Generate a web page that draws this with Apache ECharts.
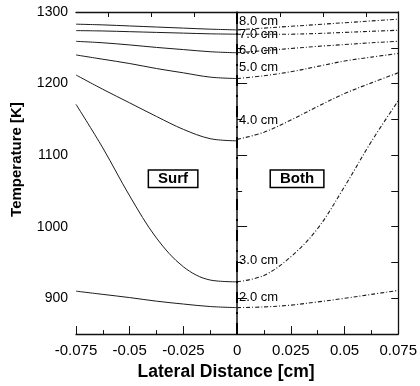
<!DOCTYPE html>
<html>
<head>
<meta charset="utf-8">
<script src="https://cdn.jsdelivr.net/npm/echarts@6/dist/echarts.min.js"></script>
<style>
  html, body { margin: 0; padding: 0; background: #fff; }
  #chart { width: 420px; height: 386px; }
</style>
</head>
<body>
<div id="chart"></div>
<script>
// Lateral positions [cm]: left half (Surf model) and right half (Both model)
const xSurf = [-0.075, -0.0625, -0.05, -0.0375, -0.025, -0.0125, 0];
const xBoth = [0, 0.0125, 0.025, 0.0375, 0.05, 0.0625, 0.075];

// Depth of each profile
const depths = ['8.0 cm', '7.0 cm', '6.0 cm', '5.0 cm', '4.0 cm', '3.0 cm', '2.0 cm'];

// Temperature profiles [K], Surf model (x from -0.075 to 0)
const surf80 = [1283, 1282, 1280.5, 1279, 1277.5, 1276, 1275];
const surf70 = [1274, 1273.5, 1272.5, 1271.5, 1270.5, 1269.5, 1269];
const surf60 = [1259, 1257, 1254, 1250.5, 1247.5, 1244.5, 1243];
const surf50 = [1240, 1234, 1228, 1221, 1215, 1209, 1207];
const surf40 = [1212, 1192, 1173, 1154, 1136, 1123, 1120];
const surf30 = [1171, 1110, 1043, 984, 944, 925.5, 923];
const surf20 = [910, 905.5, 901, 896, 892, 888.5, 887];

// Temperature profiles [K], Both model (x from 0 to 0.075)
const both80 = [1275, 1277.5, 1280, 1282.5, 1285, 1287.5, 1290];
const both70 = [1269, 1268.8, 1269, 1270, 1271.5, 1273, 1274.5];
const both60 = [1243, 1246, 1249, 1252, 1254.5, 1257, 1259];
const both50 = [1207, 1211, 1216.5, 1224, 1231.5, 1237, 1242];
const both40 = [1122, 1132, 1149, 1168, 1186, 1201, 1215];
const both30 = [923, 932, 958, 997.5, 1056, 1119, 1176];
const both20 = [887, 888, 890.5, 895, 900, 905.5, 911];

// Axis tick labels
const xTickLabels = ['-0.075', '-0.05', '-0.025', '0', '0.025', '0.05', '0.075'];
const yTickLabels = ['900', '1000', '1100', '1200', '1300'];

const surfSets = [surf80, surf70, surf60, surf50, surf40, surf30, surf20];
const bothSets = [both80, both70, both60, both50, both40, both30, both20];

const FONT = '"Liberation Sans", Arial, Helvetica, sans-serif';
const INK = '#111';

const zip = (xs, ys) => xs.map((x, i) => [x, ys[i]]);

const series = [];
depths.forEach((d, i) => {
  series.push({
    name: 'Surf ' + d,
    type: 'line',
    data: zip(xSurf, surfSets[i]),
    smooth: 0.35,
    symbol: 'none',
    lineStyle: { color: '#1c1c1c', width: 1 },
    z: 3
  });
  series.push({
    name: 'Both ' + d,
    type: 'line',
    data: zip(xBoth, bothSets[i]),
    smooth: 0.35,
    symbol: 'none',
    lineStyle: { color: '#1c1c1c', width: 1.1, type: [4, 2, 1, 2] },
    z: 3
  });
});

// Centre line between the two halves
series[0].markLine = {
  silent: true,
  symbol: 'none',
  label: { show: false },
  lineStyle: { color: '#000', width: 2, type: [11, 9, 2, 9] },
  data: [{ xAxis: 0 }]
};

// Depth tags placed just right of the centre line
const depthLabelAt = [1287.5, 1268, 1247, 1222, 1148.5, 953, 901.5];
series.push({
  name: 'depth tags',
  type: 'scatter',
  symbolSize: 0,
  silent: true,
  itemStyle: { opacity: 1 },
  data: depths.map((d, i) => ({ value: [0, depthLabelAt[i]], name: d })),
  label: {
    show: true,
    position: 'right',
    distance: 2,
    opacity: 1,
    formatter: p => p.name,
    fontFamily: FONT,
    fontSize: 13,
    color: '#000'
  },
  z: 5
});

// Boxed model tags
series.push({
  name: 'model tags',
  type: 'scatter',
  symbolSize: 0,
  silent: true,
  itemStyle: { opacity: 1 },
  data: [
    { value: [-0.0298, 1067], name: 'Surf' },
    { value: [0.0279, 1067], name: 'Both' }
  ],
  label: {
    show: true,
    position: 'inside',
    opacity: 1,
    formatter: p => p.name,
    fontFamily: FONT,
    fontSize: 15,
    fontWeight: 'bold',
    color: '#000',
    textBorderWidth: 0,
    backgroundColor: '#fff',
    borderColor: '#000',
    borderWidth: 1.5,
    padding: [1, 9, 0, 9],
    lineHeight: 15
  },
  z: 6
});

const xCommon = {
  type: 'value',
  min: -0.075,
  max: 0.075,
  interval: 0.025,
  splitLine: { show: false },
  axisLine: { show: true, lineStyle: { color: INK, width: 1.3 } }
};

const option = {
  animation: false,
  backgroundColor: '#fff',
  grid: { left: 76, right: 19, top: 12, bottom: 50 },
  xAxis: [
    Object.assign({}, xCommon, {
      position: 'bottom',
      name: 'Lateral Distance [cm]',
      nameLocation: 'middle',
      nameGap: 27,
      nameTextStyle: { fontFamily: FONT, fontSize: 17.5, fontWeight: 'bold', color: '#000', padding: [0, 22, 0, 0] },
      axisTick: { show: true, inside: true, length: 8, lineStyle: { color: INK, width: 1 } },
      minorTick: { show: true, splitNumber: 2, length: 4, lineStyle: { color: INK, width: 1 } },
      axisLabel: {
        margin: 9,
        fontFamily: FONT,
        fontSize: 15,
        color: '#000',
        formatter: (v, idx) => xTickLabels[idx]
      }
    }),
    Object.assign({}, xCommon, {
      position: 'top',
      axisTick: {
        show: true, inside: true, length: 5,
        customValues: [-0.06, -0.04, -0.02, 0, 0.02, 0.04, 0.06],
        lineStyle: { color: INK, width: 1 }
      },
      axisLabel: { show: false }
    })
  ],
  yAxis: [
    {
      type: 'value',
      position: 'left',
      min: 850,
      max: 1300,
      interval: 50,
      splitLine: { show: false },
      name: 'Temperature [K]',
      nameLocation: 'middle',
      nameGap: 52,
      nameTextStyle: { fontFamily: FONT, fontSize: 15, fontWeight: 'bold', color: '#000', padding: [0, 0, 0, 27] },
      axisLine: { show: true, lineStyle: { color: INK, width: 1.5 } },
      axisTick: {
        show: true, inside: true, length: 10,
        customValues: [900, 1000, 1100, 1200, 1300],
        lineStyle: { color: INK, width: 1 }
      },
      axisLabel: {
        margin: 8,
        fontFamily: FONT,
        fontSize: 14,
        color: '#000',
        customValues: [900, 1000, 1100, 1200, 1300],
        formatter: v => yTickLabels[Math.round((v - 900) / 100)]
      }
    },
    {
      type: 'value',
      position: 'left',
      min: 850,
      max: 1300,
      interval: 50,
      splitLine: { show: false },
      axisLine: { show: false },
      axisTick: { show: true, inside: true, length: 5, lineStyle: { color: INK, width: 1 } },
      axisLabel: { show: false }
    },
    {
      type: 'value',
      position: 'right',
      min: 850,
      max: 1300,
      interval: 50,
      splitLine: { show: false },
      axisLine: { show: true, lineStyle: { color: INK, width: 1.3 } },
      axisTick: { show: true, inside: true, length: 7, lineStyle: { color: INK, width: 1 } },
      axisLabel: { show: false }
    }
  ],
  series: series
};

const chart = echarts.init(document.getElementById('chart'), null, { renderer: 'canvas' });
chart.setOption(option);
</script>
</body>
</html>
